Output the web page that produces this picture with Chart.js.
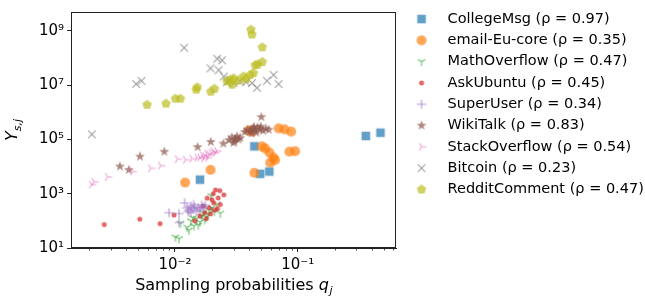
<!DOCTYPE html>
<html>
<head>
<meta charset="utf-8">
<script src="https://cdn.jsdelivr.net/npm/chart.js@4.4.1/dist/chart.umd.min.js"></script>
<style>
html, body { margin: 0; padding: 0; background: #fff; }
#wrap { width: 645px; height: 302px; }
</style>
</head>
<body>
<div id="wrap"><canvas id="myChart"></canvas></div>
<script>
// series values (q = sampling probability, Y = Y_{s,j})
const names = ['CollegeMsg', 'email-Eu-core', 'MathOverflow', 'AskUbuntu', 'SuperUser',
               'WikiTalk', 'StackOverflow', 'Bitcoin', 'RedditComment'];
const rhos = ['0.97', '0.35', '0.47', '0.45', '0.34', '0.83', '0.54', '0.23', '0.47'];
const colors = ['#1f77b4', '#ff7f0e', '#2ca02c', '#d62728', '#9467bd',
                '#8c564b', '#e377c2', '#7f7f7f', '#bcbd22'];

const collegeQ = [0.016, 0.0443, 0.0494, 0.0586, 0.358, 0.471];
const collegeY = [3300, 56000, 5400, 6600, 135000, 178000];

const emailQ = [0.0121, 0.0195, 0.0398, 0.0424, 0.0698, 0.078, 0.0883, 0.051, 0.0543,
                0.0589, 0.0634, 0.0654, 0.0597, 0.0443, 0.0855, 0.0951];
const emailY = [2570, 7600, 214000, 195000, 257000, 236000, 195000, 56000, 47000,
                32500, 21500, 17500, 14100, 5900, 35600, 37000];

const mathQ = [0.0101, 0.0108, 0.0111, 0.0126, 0.0143, 0.0135, 0.015, 0.016, 0.0165, 0.017,
               0.018, 0.019, 0.020, 0.021, 0.0197, 0.0234, 0.022, 0.0155, 0.013, 0.0175,
               0.0185, 0.014];
const mathY = [25, 22, 81, 58, 66, 100, 120, 90, 150, 200,
               140, 250, 300, 220, 850, 190, 400, 70, 45, 110,
               180, 130];

const askQ = [0.00266, 0.00518, 0.00757, 0.00983, 0.0214, 0.0232, 0.025, 0.0183, 0.0207,
              0.0234, 0.019, 0.020, 0.0225, 0.021, 0.0175, 0.016, 0.018, 0.0195, 0.0145,
              0.017, 0.0222, 0.0205];
const askY = [73, 115, 79, 163, 1380, 1300, 910, 690, 460,
              400, 300, 600, 700, 250, 200, 150, 120, 180, 100,
              350, 280, 1000];

const superQ = [0.00896, 0.0108, 0.012, 0.0108, 0.0125, 0.013, 0.0135, 0.014, 0.0145, 0.015,
                0.0155, 0.016, 0.0165, 0.0135, 0.0142, 0.0177, 0.017, 0.0128];
const superY = [200, 186, 460, 87, 300, 250, 350, 280, 320, 230,
                300, 260, 380, 200, 400, 380, 320, 220];

const wikiQ = [0.00357, 0.00422, 0.0052, 0.0082, 0.0153, 0.0196, 0.0248, 0.0505,
               0.0275, 0.029, 0.0305, 0.031, 0.032, 0.033, 0.030, 0.034,
               0.037, 0.039, 0.041, 0.043, 0.045, 0.047, 0.049, 0.052, 0.055, 0.058,
               0.046, 0.042, 0.050, 0.044];
const wikiY = [10200, 7600, 23500, 35500, 52500, 81500, 70500, 674000,
               95000, 120000, 85000, 105000, 130000, 100000, 75000, 115000,
               190000, 230000, 200000, 260000, 220000, 280000, 240000, 210000, 250000, 230000,
               180000, 170000, 300000, 290000];

const stackQ = [0.0021, 0.0022, 0.00283, 0.00452, 0.00636, 0.00766, 0.0105, 0.0122, 0.0138,
                0.0152, 0.016, 0.0168, 0.0175, 0.0182, 0.019, 0.0198, 0.0205, 0.0213, 0.022,
                0.0172, 0.0185];
const stackY = [2190, 2750, 4150, 6600, 8700, 10900, 18800, 17900, 19800,
                21500, 22000, 26000, 24000, 30000, 28000, 33000, 36000, 32000, 38000,
                20000, 21000];

const bitcoinQ = [0.00211, 0.00484, 0.00535, 0.0119, 0.0195, 0.0221, 0.0242, 0.0227, 0.025,
                  0.0265, 0.034, 0.0424, 0.0466, 0.0561, 0.0635, 0.0698, 0.030, 0.038, 0.028];
const bitcoinY = [155000, 1.12e7, 1.45e7, 2.4e8, 4.2e7, 9.5e7, 8.3e7, 3.6e7, 2.1e7,
                  1.3e7, 1.4e7, 1.2e7, 8e6, 1.45e7, 2.4e7, 1.1e7, 1.2e7, 1.3e7, 1.6e7];

const redditQ = [0.00594, 0.00846, 0.0101, 0.0111, 0.0149, 0.0152, 0.0196, 0.021, 0.0265,
                 0.0282, 0.0292, 0.0301, 0.0362, 0.041, 0.0436, 0.045, 0.0471, 0.0514, 0.0514,
                 0.0416, 0.0424, 0.033, 0.038];
const redditY = [1.9e6, 2.1e6, 3.2e6, 3.2e6, 6.9e6, 8.4e6, 5.8e6, 7.4e6, 1.4e7,
                 1.6e7, 1.05e7, 1.8e7, 2.1e7, 2.4e7, 2.8e7, 5.5e7, 5.8e7, 7.2e7, 2.5e8,
                 1.12e9, 7.4e8, 1.5e7, 1.7e7];

const seriesQ = [collegeQ, emailQ, mathQ, askQ, superQ, wikiQ, stackQ, bitcoinQ, redditQ];
const seriesY = [collegeY, emailY, mathY, askY, superY, wikiY, stackY, bitcoinY, redditY];

const yTicks = [1e1, 1e3, 1e5, 1e7, 1e9];
const xTicks = [1e-2, 1e-1];
const xMinorTicks = [2e-3, 3e-3, 4e-3, 5e-3, 6e-3, 7e-3, 8e-3, 9e-3,
                     2e-2, 3e-2, 4e-2, 5e-2, 6e-2, 7e-2, 8e-2, 9e-2,
                     2e-1, 3e-1, 4e-1, 5e-1, 6e-1];

const shapes = ['square', 'circle', 'triDown', 'dot', 'plus', 'star', 'triRight', 'x', 'pentagon'];

// little canvas markers, matplotlib style
function makeMarker(shape, color) {
  const d = 16;
  const c = document.createElement('canvas');
  c.width = d; c.height = d;
  const g = c.getContext('2d');
  const m = d / 2;
  g.globalAlpha = 0.7;
  g.fillStyle = color;
  g.strokeStyle = color;
  g.lineWidth = 1.1;
  g.lineCap = 'butt';
  const poly = (n, ro, ri) => {
    g.beginPath();
    const k = ri ? n * 2 : n;
    for (let i = 0; i < k; i++) {
      const r = ri && i % 2 ? ri : ro;
      const a = -Math.PI / 2 + i * Math.PI * 2 / k;
      const px = m + r * Math.cos(a), py = m + r * Math.sin(a);
      i ? g.lineTo(px, py) : g.moveTo(px, py);
    }
    g.closePath();
    g.fill();
  };
  const arms = (dirs, len) => {
    g.beginPath();
    dirs.forEach(([dx, dy]) => { g.moveTo(m, m); g.lineTo(m + dx * len, m + dy * len); });
    g.stroke();
  };
  if (shape === 'square') g.fillRect(m - 4.3, m - 4.3, 8.6, 8.6);
  if (shape === 'circle') { g.beginPath(); g.arc(m, m, 5, 0, Math.PI * 2); g.fill(); }
  if (shape === 'dot') { g.beginPath(); g.arc(m, m, 2.5, 0, Math.PI * 2); g.fill(); }
  if (shape === 'star') poly(5, 5.2, 2.1);
  if (shape === 'pentagon') poly(5, 5, 0);
  if (shape === 'triDown') arms([[0, 1], [0.8, -0.5], [-0.8, -0.5]], 4.6);
  if (shape === 'triRight') arms([[1, 0], [-0.5, -0.8], [-0.5, 0.8]], 4.6);
  if (shape === 'plus') arms([[1, 0], [-1, 0], [0, 1], [0, -1]], 4.6);
  if (shape === 'x') arms([[0.707, 0.707], [-0.707, -0.707], [0.707, -0.707], [-0.707, 0.707]], 5.4);
  return c;
}

const sup = {'0': '⁰', '1': '¹', '2': '²', '3': '³', '4': '⁴', '5': '⁵', '6': '⁶', '7': '⁷', '8': '⁸', '9': '⁹', '-': '⁻'};
function powLabel(v) {
  const e = String(Math.round(Math.log10(v)));
  return '10' + e.split('').map(ch => sup[ch]).join('');
}

const datasets = names.map((n, i) => ({
  label: n + ' (ρ = ' + rhos[i] + ')',
  data: seriesQ[i].map((q, j) => ({x: q, y: seriesY[i][j]})),
  pointStyle: makeMarker(shapes[i], colors[i]),
  pointRadius: 5,
  backgroundColor: colors[i],
  borderColor: colors[i],
  order: names.length - i
}));

const frameAndTicks = {
  id: 'frameAndTicks',
  afterDraw(chart) {
    const {ctx, chartArea: a, scales: {x}} = chart;
    ctx.save();
    ctx.strokeStyle = '#222';
    ctx.lineWidth = 1;
    ctx.strokeRect(Math.round(a.left) + 0.5, Math.round(a.top) + 0.5,
                   Math.round(a.right - a.left) - 1, Math.round(a.bottom - a.top) - 1);
    ctx.lineWidth = 0.8;
    xMinorTicks.forEach(v => {
      const px = Math.round(x.getPixelForValue(v)) + 0.5;
      ctx.beginPath();
      ctx.moveTo(px, a.bottom);
      ctx.lineTo(px, a.bottom + 2.5);
      ctx.stroke();
    });
    ctx.restore();
  }
};

// axis titles with italic maths and subscripts
const axisTitles = {
  id: 'axisTitles',
  afterDraw(chart) {
    const {ctx, chartArea: a} = chart;
    ctx.save();
    ctx.fillStyle = '#000';
    ctx.textBaseline = 'alphabetic';
    const big = '16px "DejaVu Sans"', bigIt = 'italic 16px "DejaVu Sans"', small = 'italic 11px "DejaVu Sans"';

    // x title
    ctx.font = big;
    const t1 = 'Sampling probabilities ';
    const w1 = ctx.measureText(t1).width;
    ctx.font = bigIt;
    const w2 = ctx.measureText('q').width;
    ctx.font = small;
    const w3 = ctx.measureText('j').width;
    let x0 = (a.left + a.right) / 2 - (w1 + w2 + w3) / 2;
    const yb = 290;
    ctx.font = big; ctx.fillText(t1, x0, yb);
    ctx.font = bigIt; ctx.fillText('q', x0 + w1, yb);
    ctx.font = small; ctx.fillText('j', x0 + w1 + w2 + 0.5, yb + 3.5);

    // y title
    ctx.translate(17, (a.top + a.bottom) / 2);
    ctx.rotate(-Math.PI / 2);
    ctx.font = bigIt;
    const wy = ctx.measureText('Y').width;
    ctx.font = small;
    const ws = ctx.measureText('s,j').width;
    const s0 = -(wy + ws) / 2;
    ctx.font = bigIt; ctx.fillText('Y', s0, 0);
    ctx.font = small; ctx.fillText('s,j', s0 + wy, 3.5);
    ctx.restore();
  }
};

const config = {
  type: 'scatter',
  data: {datasets: datasets},
  options: {
    responsive: false,
    animation: false,
    events: [],
    layout: {padding: {left: 36, right: 0, top: 5, bottom: 24}},
    scales: {
      x: {
        type: 'logarithmic',
        min: 1.43e-3,
        max: 0.63,
        afterBuildTicks: s => { s.ticks = xTicks.map(v => ({value: v})); },
        ticks: {
          autoSkip: false, maxRotation: 0, padding: 4, color: '#000',
          font: {family: 'DejaVu Sans', size: 15},
          callback: v => powLabel(v)
        },
        grid: {display: true, drawOnChartArea: false, tickLength: 4, color: '#222'},
        border: {color: '#222'}
      },
      y: {
        type: 'logarithmic',
        min: 10,
        max: 5e9,
        afterBuildTicks: s => { s.ticks = yTicks.map(v => ({value: v})); },
        ticks: {
          autoSkip: false, padding: 3, color: '#000',
          font: {family: 'DejaVu Sans', size: 15},
          callback: v => powLabel(v)
        },
        grid: {display: true, drawOnChartArea: false, tickLength: 4, color: '#222'},
        border: {color: '#222'}
      }
    },
    plugins: {
      tooltip: {enabled: false},
      legend: {
        position: 'right',
        align: 'start',
        maxWidth: 249,
        labels: {
          usePointStyle: true,
          pointStyleWidth: 37.5,
          padding: 6.8,
          color: '#000',
          font: {family: 'DejaVu Sans', size: 14.5},
          sort: (a, b) => a.datasetIndex - b.datasetIndex
        }
      }
    }
  },
  plugins: [frameAndTicks, axisTitles]
};

const canvas = document.getElementById('myChart');
canvas.width = 645;
canvas.height = 302;
new Chart(canvas, config);
</script>
</body>
</html>
